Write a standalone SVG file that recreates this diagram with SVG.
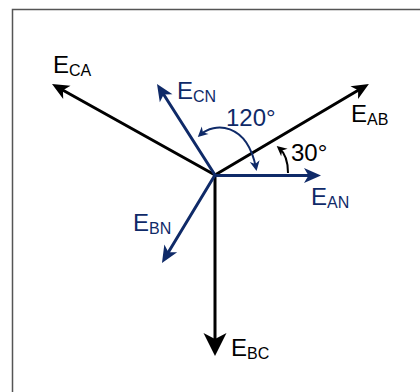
<svg xmlns="http://www.w3.org/2000/svg" width="420" height="392" viewBox="0 0 420 392">
<style>
.k{stroke:#000;stroke-width:3;fill:none;stroke-linecap:round}
.b{stroke:#0f2a68;stroke-width:3;fill:none;stroke-linecap:round}
.arc{fill:none;stroke-width:2}
text{font-family:"Liberation Sans",Arial,sans-serif;font-size:24px}
.sub{font-size:16px}
.tb{fill:#0f2a68}
.tk{fill:#000}
</style>
<defs>
<marker id="ak" markerUnits="userSpaceOnUse" orient="auto" overflow="visible" refX="-8" refY="0" markerWidth="1" markerHeight="1"><path d="M0,0 L-17,-7.5 L-12.5,0 L-17,7.5Z" fill="#000"/></marker>
<marker id="ab" markerUnits="userSpaceOnUse" orient="auto" overflow="visible" refX="-8" refY="0" markerWidth="1" markerHeight="1"><path d="M0,0 L-17,-7.5 L-12.5,0 L-17,7.5Z" fill="#0f2a68"/></marker>
<marker id="akbig" markerUnits="userSpaceOnUse" orient="auto" overflow="visible" refX="-12" refY="0" markerWidth="1" markerHeight="1"><path d="M0,0 L-23,-11.5 L-17,0 L-23,11.5Z" fill="#000"/></marker>
<marker id="sb" markerUnits="userSpaceOnUse" orient="auto-start-reverse" overflow="visible" refX="-3" refY="0" markerWidth="1" markerHeight="1"><path d="M0,0 L-10,-5 L-7,0 L-10,5Z" fill="#0f2a68"/></marker>
<marker id="sk" markerUnits="userSpaceOnUse" orient="auto" overflow="visible" refX="-3" refY="0" markerWidth="1" markerHeight="1"><path d="M0,0 L-10,-5 L-7,0 L-10,5Z" fill="#000"/></marker>
</defs>
<rect x="12.5" y="9.5" width="420" height="400" fill="#fff" stroke="#555" stroke-width="1.5"/>
<g id="connectors">
<line id="v-ca" class="k" x1="215" y1="175" x2="59" y2="88" marker-end="url(#ak)"/>
<line id="v-ab" class="k" x1="215" y1="175" x2="362" y2="88" marker-end="url(#ak)"/>
<line id="v-bc" class="k" x1="215" y1="175" x2="215" y2="344" stroke-width="4" marker-end="url(#akbig)"/>
<line id="v-an" class="b" x1="215" y1="175.5" x2="313" y2="175.5" marker-end="url(#ab)"/>
<line id="v-cn" class="b" x1="215" y1="175" x2="161.3" y2="90.7" marker-end="url(#ab)"/>
<line id="v-bn" class="b" x1="215" y1="175" x2="166.1" y2="256.1" marker-end="url(#ab)"/>
<path id="arc120" class="arc" stroke="#0f2a68" d="M200,135 C214,122 247,122 256,168" marker-start="url(#sb)" marker-end="url(#sb)"/>
<path id="arc30" class="arc" stroke="#000" d="M288,173 C288,162 285,153 279,148" marker-end="url(#sk)"/>
</g>
<g id="ECA"><text class="tk" x="53" y="73">E<tspan class="sub" dy="3">CA</tspan></text></g>
<g id="ECN"><text class="tb" x="177" y="99">E<tspan class="sub" dy="3">CN</tspan></text></g>
<g id="EAB"><text class="tk" x="351" y="122">E<tspan class="sub" dy="3">AB</tspan></text></g>
<g id="EAN"><text class="tb" x="311" y="205">E<tspan class="sub" dy="3">AN</tspan></text></g>
<g id="EBN"><text class="tb" x="133" y="231">E<tspan class="sub" dy="3">BN</tspan></text></g>
<g id="EBC"><text class="tk" x="231" y="356">E<tspan class="sub" dy="3">BC</tspan></text></g>
<g id="ang120"><text class="tb" x="226" y="126">120°</text></g>
<g id="ang30"><text class="tk" x="291" y="161">30°</text></g>
</svg>
